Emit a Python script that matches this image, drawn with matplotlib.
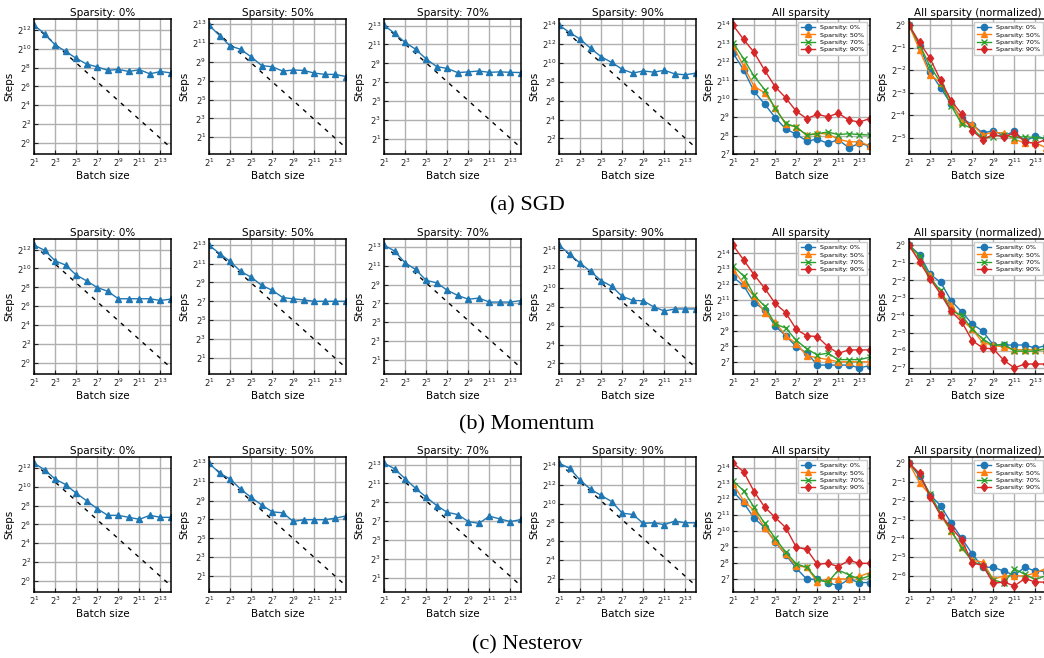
import numpy as np
import matplotlib
matplotlib.use('Agg')
import matplotlib.pyplot as plt
from matplotlib import ticker

# batch sizes 2^1 .. 2^14
batch_exp = np.arange(1, 15)
batch = 2.0 ** batch_exp

sparsity = ['0%', '50%', '70%', '90%']
captions = ['(a) SGD', '(b) Momentum', '(c) Nesterov']

# log2(steps to target) for each batch size
sgd_0 = [12.49, 11.58, 10.40, 9.71, 8.98, 8.36, 8.07, 7.70, 7.80, 7.58, 7.77, 7.33, 7.58, 7.43]
sgd_50 = [12.88, 11.78, 10.68, 10.32, 9.52, 8.60, 8.47, 8.01, 8.13, 8.08, 7.80, 7.66, 7.66, 7.43]
sgd_70 = [13.05, 12.18, 11.22, 10.50, 9.47, 8.66, 8.46, 8.02, 8.10, 8.19, 8.05, 8.10, 8.05, 8.03]
sgd_90 = [14.00, 13.23, 12.52, 11.55, 10.65, 10.05, 9.32, 8.92, 9.15, 9.02, 9.22, 8.83, 8.74, 8.92]

mom_0 = [12.47, 11.93, 10.81, 10.36, 9.31, 8.68, 7.98, 7.58, 6.79, 6.79, 6.79, 6.79, 6.61, 6.76]
mom_50 = [12.95, 12.06, 11.23, 10.17, 9.56, 8.69, 8.17, 7.40, 7.26, 7.15, 7.00, 7.00, 7.00, 7.00]
mom_70 = [13.17, 12.55, 11.30, 10.59, 9.44, 9.18, 8.39, 7.84, 7.44, 7.56, 7.14, 7.14, 7.14, 7.30]
mom_90 = [14.53, 13.58, 12.62, 11.75, 10.77, 10.17, 9.10, 8.68, 8.63, 7.98, 7.55, 7.77, 7.77, 7.77]

nes_0 = [12.49, 11.79, 10.81, 10.22, 9.31, 8.50, 7.66, 6.96, 6.96, 6.75, 6.54, 6.96, 6.75, 6.75]
nes_50 = [12.97, 11.92, 11.29, 10.21, 9.34, 8.54, 7.81, 7.71, 6.79, 6.98, 6.98, 6.98, 7.14, 7.38]
nes_70 = [13.15, 12.55, 11.50, 10.48, 9.55, 8.66, 7.94, 7.70, 6.96, 6.77, 7.53, 7.24, 6.96, 7.18]
nes_90 = [14.28, 13.74, 12.49, 11.51, 10.86, 10.21, 8.98, 8.84, 7.90, 7.96, 7.76, 8.15, 7.96, 7.96]

runs = [[sgd_0, sgd_50, sgd_70, sgd_90],
        [mom_0, mom_50, mom_70, mom_90],
        [nes_0, nes_50, nes_70, nes_90]]

colors = ['#1f77b4', '#ff7f0e', '#2ca02c', '#d62728']
markers = ['o', '^', 'x', 'd']

plt.rcParams['font.family'] = 'DejaVu Sans'
plt.rcParams['xtick.direction'] = 'in'
plt.rcParams['ytick.direction'] = 'in'

W, H = 1044, 658
fig = plt.figure(figsize=(W / 100, H / 100), dpi=100)

col_left = [34, 209, 384, 559, 733, 909]
row_top = [19, 239, 457]
aw, ah = 137, 135
cap_y = [206, 425, 645]


def style(ax, title, stride):
    ax.set_xscale('log', base=2)
    ax.set_yscale('log', base=2)
    ax.set_xlim(2, 2 ** 14)
    lo, hi = ax.get_ylim()
    ax.set_ylim(lo, hi)
    e0 = np.floor(np.log2(lo))
    e1 = np.ceil(np.log2(hi))
    ax.yaxis.set_major_locator(ticker.FixedLocator(2.0 ** np.arange(e0, e1 + 1, stride)))
    ax.xaxis.set_major_locator(ticker.FixedLocator(2.0 ** np.arange(1, 15, 2)))
    ax.xaxis.set_major_formatter(ticker.LogFormatterSciNotation(base=2))
    ax.yaxis.set_major_formatter(ticker.LogFormatterSciNotation(base=2))
    ax.xaxis.set_minor_locator(ticker.NullLocator())
    ax.yaxis.set_minor_locator(ticker.NullLocator())
    ax.grid(True, color='#b0b0b0', lw=1.0)
    ax.set_axisbelow(True)
    ax.tick_params(labelsize=6, length=3, width=0.8, pad=2, colors='#222222')
    for s in ax.spines.values():
        s.set_linewidth(1.1)
        s.set_color('black')
    ax.set_title(title, fontsize=7.5, pad=2)
    ax.set_xlabel('Batch size', fontsize=7.5, labelpad=1)
    ax.set_ylabel('Steps', fontsize=7.5, labelpad=2)


for r in range(3):
    top = row_top[r]
    for c in range(4):
        ax = fig.add_axes([col_left[c] / W, 1 - (top + ah) / H, aw / W, ah / H])
        steps = 2.0 ** np.array(runs[r][c])
        # perfect scaling reference from the smallest batch
        ax.plot(batch, steps[0] * batch[0] / batch, 'k--', lw=1.0, dashes=(3, 4))
        ax.plot(batch, steps, '-^', color=colors[0], lw=1.0, ms=4.5)
        style(ax, 'Sparsity: ' + sparsity[c], 2)

    ax = fig.add_axes([col_left[4] / W, 1 - (top + ah) / H, aw / W, ah / H])
    for c in range(4):
        steps = 2.0 ** np.array(runs[r][c])
        ax.plot(batch, steps, '-', marker=markers[c], color=colors[c], lw=1.0, ms=4.5,
                mew=1.0, label='Sparsity: ' + sparsity[c])
    style(ax, 'All sparsity', 1)
    ax.legend(loc='upper right', fontsize=4.6, handlelength=2.2, borderpad=0.4,
              labelspacing=0.3, framealpha=1, edgecolor='#cccccc', fancybox=False)

    ax = fig.add_axes([col_left[5] / W, 1 - (top + ah) / H, aw / W, ah / H])
    for c in range(4):
        steps = 2.0 ** np.array(runs[r][c])
        ax.plot(batch, steps / steps[0], '-', marker=markers[c], color=colors[c], lw=1.0,
                ms=4.5, mew=1.0, label='Sparsity: ' + sparsity[c])
    style(ax, 'All sparsity (normalized)', 1)
    ax.legend(loc='upper right', fontsize=4.6, handlelength=2.2, borderpad=0.4,
              labelspacing=0.3, framealpha=1, edgecolor='#cccccc', fancybox=False)

    fig.text(527 / W, 1 - cap_y[r] / H, captions[r], ha='center', va='center',
             fontsize=16, family='Liberation Serif')

fig.savefig('out.png', dpi=100)
